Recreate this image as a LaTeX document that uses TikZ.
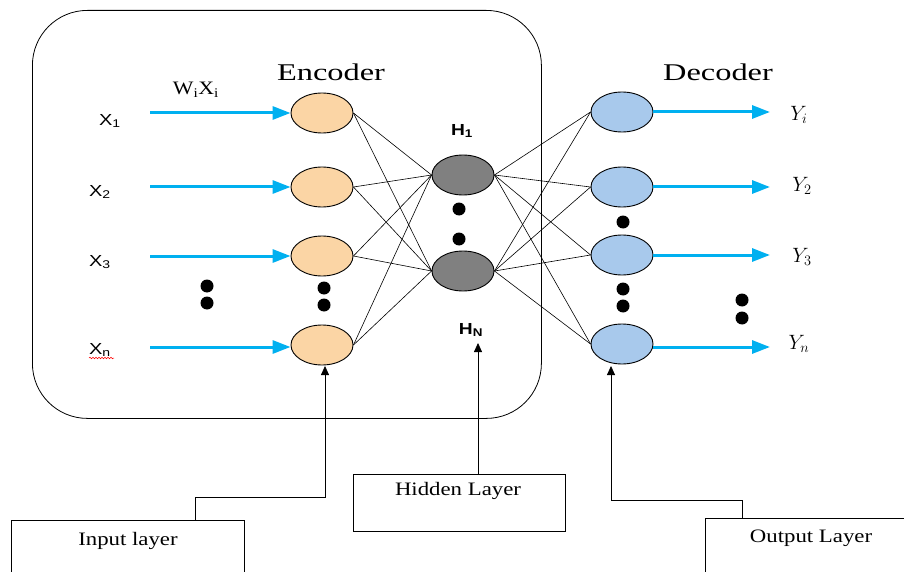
\documentclass[tikz,border=0pt]{standalone}
\usepackage{fontspec}
\setmainfont{Liberation Serif}
\newfontfamily\arialf{Liberation Sans}
\usetikzlibrary{arrows.meta,decorations.pathmorphing,shapes.geometric}
\definecolor{arrowblue}{RGB}{0,176,240}
\definecolor{encfill}{RGB}{251,213,165}
\definecolor{decfill}{RGB}{168,201,236}
\definecolor{hidfill}{RGB}{128,128,128}
\begin{document}
\begin{tikzpicture}[x=1pt,y=-1pt,
  neuron/.style={ellipse,draw=black,line width=0.9pt,minimum width=62pt,minimum height=40pt,inner sep=0pt},
  encn/.style={neuron,fill=encfill},
  decn/.style={neuron,fill=decfill},
  hidn/.style={neuron,fill=hidfill},
  bluearrow/.style={arrowblue,line width=3pt,-{Triangle[length=18pt,width=13pt]}},
  conn/.style={black,line width=0.6pt},
  blackarrow/.style={black,line width=0.8pt,-{Triangle[length=9pt,width=8pt]}},
  dotn/.style={circle,fill=black,inner sep=0pt,minimum size=13pt},
  lbox/.style={draw=black,line width=0.8pt,rectangle,inner sep=0pt},
  xlab/.style={font=\arialf\fontsize{16}{17}\selectfont},
  ylab/.style={font=\fontsize{22}{24}\selectfont},
  boxtext/.style={font=\fontsize{19}{20}\selectfont},
  hlab/.style={font=\arialf\bfseries\fontsize{16}{17}\selectfont}
]
\useasboundingbox (0,0) rectangle (904,572);
\fill[white] (0,0) rectangle (904,572);

% encoder frame
\node[draw=black,line width=0.8pt,rounded corners=55pt,minimum width=509pt,minimum height=408pt,anchor=north west] (frame) at (32,10) {};

% titles
\node (enc) at (331,72) {\fontsize{24}{26}\selectfont\scalebox{1.35}[1]{Encoder}};
\node (dec) at (718,72) {\fontsize{24}{26}\selectfont\scalebox{1.35}[1]{Decoder}};
\node (wx) at (196,90) {\fontsize{19}{20}\selectfont\scalebox{1.15}[1]{W\textsubscript{i}X\textsubscript{i}}};

% neurons
\node[encn] (e1) at (322,113) {};
\node[encn] (e2) at (322,187) {};
\node[encn] (e3) at (322,256) {};
\node[encn] (e4) at (322,345) {};
\node[hidn] (h1) at (463,175) {};
\node[hidn] (h2) at (463,271) {};
\node[decn] (d1) at (622,112) {};
\node[decn] (d2) at (622,187) {};
\node[decn] (d3) at (622,255) {};
\node[decn] (d4) at (622,344) {};

% connections
\foreach \e in {e1,e2,e3,e4}{\foreach \h in {h1,h2}{\draw[conn] (\e.east) -- (\h.west);}}
\foreach \h in {h1,h2}{\foreach \d in {d1,d2,d3,d4}{\draw[conn] (\h.east) -- (\d.west);}}

% input labels and arrows
\node[xlab] (x1) at (110,121) {\scalebox{1.25}[1]{X\textsubscript{1}}};
\node[xlab] (x2) at (100,192) {\scalebox{1.25}[1]{X\textsubscript{2}}};
\node[xlab] (x3) at (100,262) {\scalebox{1.25}[1]{X\textsubscript{3}}};
\node[xlab] (xn) at (100,350) {\scalebox{1.25}[1]{X\textsubscript{n}}};
\draw[red,line width=0.5pt,decorate,decoration={snake,amplitude=0.8pt,segment length=3pt}] (89,358) -- (114,358);
\coordinate (s1) at (150,113);
\coordinate (s2) at (150,187);
\coordinate (s3) at (150,256);
\coordinate (s4) at (150,347);
\draw[bluearrow] (s1) -- (e1.west);
\draw[bluearrow] (s2) -- (e2.west);
\draw[bluearrow] (s3) -- (e3.west);
\draw[bluearrow] (s4) -- (e4.west |- s4);

% output arrows and labels
\coordinate (t1) at (770,112);
\coordinate (t2) at (770,187);
\coordinate (t3) at (770,255);
\coordinate (t4) at (770,347);
\draw[bluearrow] (d1.east) -- (t1);
\draw[bluearrow] (d2.east) -- (t2);
\draw[bluearrow] (d3.east) -- (t3);
\draw[bluearrow] (d4.east |- t4) -- (t4);
\node[ylab] (y1) at (799,115) {$Y_i$};
\node[ylab] (y2) at (802,186) {$Y_2$};
\node[ylab] (y3) at (802,257) {$Y_3$};
\node[ylab] (y4) at (799,344) {$Y_n$};

% hidden labels
\node[hlab] (hl1) at (462,131) {\scalebox{1.2}[1]{H\textsubscript{1}}};
\node[hlab] (hln) at (471,330) {\scalebox{1.2}[1]{H\textsubscript{N}}};

% dots
\node[dotn] (dl1) at (207,286) {};
\node[dotn] (dl2) at (207,303) {};
\node[dotn] (de1) at (324,288) {};
\node[dotn] (de2) at (324,305) {};
\node[dotn] (dh1) at (459,209) {};
\node[dotn] (dh2) at (459,239) {};
\node[dotn] (dd0) at (623,222) {};
\node[dotn] (dd1) at (623,289) {};
\node[dotn] (dd2) at (623,306) {};
\node[dotn] (dr1) at (742,300) {};
\node[dotn] (dr2) at (742,318) {};

% layer boxes
\node[lbox,minimum width=233pt,minimum height=60pt,anchor=north west] (inbox) at (11,520) {};
\node[boxtext] (intext) at (128,541) {\scalebox{1.2}[1]{Input layer}};
\node[lbox,minimum width=212pt,minimum height=57pt,anchor=north west] (hidbox) at (353,474) {};
\node[boxtext] (hidtext) at (458,491) {\scalebox{1.2}[1]{Hidden Layer}};
\node[lbox,minimum width=210pt,minimum height=60pt,anchor=north west] (outbox) at (705,518) {};
\node[boxtext] (outtext) at (811,538) {\scalebox{1.2}[1]{Output Layer}};

% layer pointers
\coordinate (ia) at (195,497);
\coordinate (ib) at (325,497);
\coordinate (itip) at (325,366);
\draw[blackarrow] (inbox.north -| ia) -- (ia) -- (ib) -- (itip);
\coordinate (htip) at (478,343);
\draw[blackarrow] (hidbox.north -| htip) -- (htip);
\coordinate (oa) at (742,500);
\coordinate (ob) at (611,500);
\coordinate (otip) at (611,366);
\draw[blackarrow] (outbox.north -| oa) -- (oa) -- (ob) -- (otip);
\end{tikzpicture}
\end{document}
